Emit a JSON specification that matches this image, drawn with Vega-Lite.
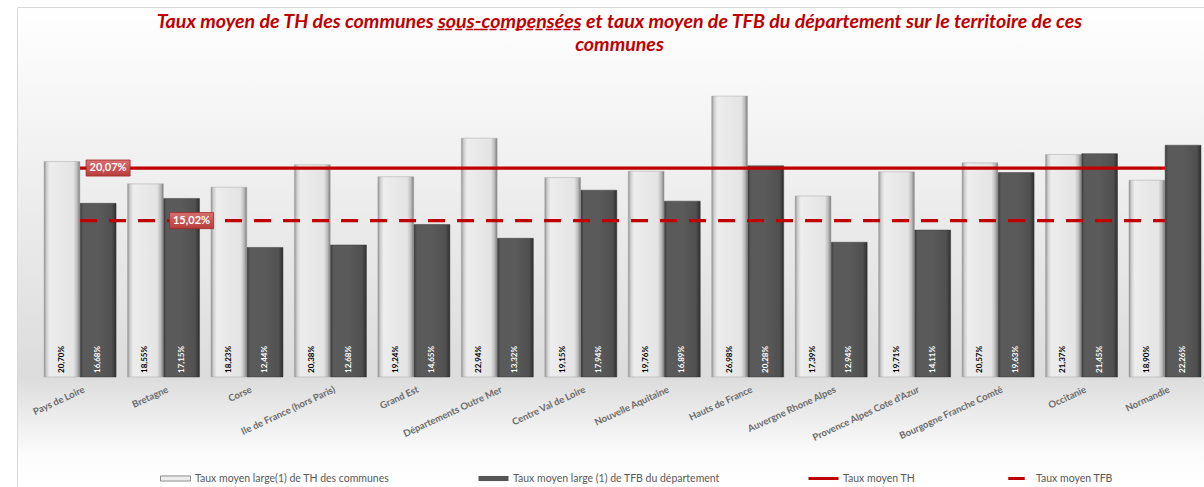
{
  "$schema": "https://vega.github.io/schema/vega-lite/v6.json",
  "width": 1187,
  "height": 480,
  "padding": {"left": 17, "top": 7, "right": 0, "bottom": 0},
  "background": "#ffffff",
  "title": {
    "text": [
      "Taux moyen de TH des communes \u0332s\u0332o\u0332u\u0332s\u0332-\u0332c\u0332o\u0332m\u0332p\u0332e\u0332n\u0332s\u0332é\u0332e\u0332s et taux moyen de TFB du département sur le territoire de ces",
      "communes"
    ],
    "orient": "top",
    "anchor": "middle",
    "frame": "group",
    "offset": -49,
    "dx": 9,
    "font": "Lato",
    "fontSize": 19.6,
    "fontStyle": "italic",
    "fontWeight": "bold",
    "color": "#c00000",
    "lineHeight": 23
  },
  "datasets": {
    "taux": [
      {"region": "Pays de Loire", "serie": "TH", "taux": 0.2070},
      {"region": "Pays de Loire", "serie": "TFB", "taux": 0.1668},
      {"region": "Bretagne", "serie": "TH", "taux": 0.1855},
      {"region": "Bretagne", "serie": "TFB", "taux": 0.1715},
      {"region": "Corse", "serie": "TH", "taux": 0.1823},
      {"region": "Corse", "serie": "TFB", "taux": 0.1244},
      {"region": "Ile de France (hors Paris)", "serie": "TH", "taux": 0.2038},
      {"region": "Ile de France (hors Paris)", "serie": "TFB", "taux": 0.1268},
      {"region": "Grand Est", "serie": "TH", "taux": 0.1924},
      {"region": "Grand Est", "serie": "TFB", "taux": 0.1465},
      {"region": "Départements Outre Mer", "serie": "TH", "taux": 0.2294},
      {"region": "Départements Outre Mer", "serie": "TFB", "taux": 0.1332},
      {"region": "Centre Val de Loire", "serie": "TH", "taux": 0.1915},
      {"region": "Centre Val de Loire", "serie": "TFB", "taux": 0.1794},
      {"region": "Nouvelle Aquitaine", "serie": "TH", "taux": 0.1976},
      {"region": "Nouvelle Aquitaine", "serie": "TFB", "taux": 0.1689},
      {"region": "Hauts de France", "serie": "TH", "taux": 0.2698},
      {"region": "Hauts de France", "serie": "TFB", "taux": 0.2028},
      {"region": "Auvergne Rhone Alpes", "serie": "TH", "taux": 0.1739},
      {"region": "Auvergne Rhone Alpes", "serie": "TFB", "taux": 0.1294},
      {"region": "Provence Alpes Cote d'Azur", "serie": "TH", "taux": 0.1971},
      {"region": "Provence Alpes Cote d'Azur", "serie": "TFB", "taux": 0.1411},
      {"region": "Bourgogne Franche Comté", "serie": "TH", "taux": 0.2057},
      {"region": "Bourgogne Franche Comté", "serie": "TFB", "taux": 0.1963},
      {"region": "Occitanie", "serie": "TH", "taux": 0.2137},
      {"region": "Occitanie", "serie": "TFB", "taux": 0.2145},
      {"region": "Normandie", "serie": "TH", "taux": 0.1890},
      {"region": "Normandie", "serie": "TFB", "taux": 0.2226}
    ],
    "moyennes": [
      {"region": "Pays de Loire", "serie": "TH", "taux": 0.2007},
      {"region": "Normandie", "serie": "TH", "taux": 0.2007},
      {"region": "Pays de Loire", "serie": "TFB", "taux": 0.1502},
      {"region": "Normandie", "serie": "TFB", "taux": 0.1502}
    ],
    "etiquettes": [
      {"region": "Pays de Loire", "taux": 0.2007},
      {"region": "Bretagne", "taux": 0.1502}
    ],
    "legende": [
      {"legende": "Taux moyen large(1) de TH des communes"},
      {"legende": "Taux moyen large (1) de TFB du département"},
      {"legende": "Taux moyen TH"},
      {"legende": "Taux moyen TFB"}
    ]
  },
  "layer": [
    {
      "data": {"name": "taux"},
      "transform": [{"filter": "datum.serie === 'TH'"}],
      "mark": {
        "type": "bar",
        "stroke": "#a8a8a8",
        "strokeWidth": 0.5,
        "fill": {
          "gradient": "linear", "x1": 0, "y1": 0, "x2": 1, "y2": 0,
          "stops": [
            {"offset": 0, "color": "#8f8f8f"},
            {"offset": 0.07, "color": "#cfcfcf"},
            {"offset": 0.16, "color": "#ededed"},
            {"offset": 0.82, "color": "#e4e4e4"},
            {"offset": 0.92, "color": "#bdbdbd"},
            {"offset": 1, "color": "#7a7a7a"}
          ]
        }
      },
      "encoding": {
        "x": {
          "field": "region", "type": "nominal", "sort": null,
          "scale": {"paddingInner": 0.137, "paddingOuter": 0.18, "align": 0.9},
          "axis": {
            "title": null, "orient": "bottom", "offset": -110,
            "domain": false, "ticks": false, "grid": false,
            "labelAngle": -25, "labelAlign": "right", "labelBaseline": "top",
            "labelPadding": 7, "labelOffset": 2,
            "labelFont": "Lato", "labelFontSize": 9.5, "labelFontWeight": "bold",
            "labelColor": "#6b6b6b", "labelLimit": 300
          }
        },
        "xOffset": {"field": "serie", "type": "nominal", "scale": {"domain": ["TH", "TFB"], "paddingInner": 0.01}},
        "y": {
          "field": "taux", "type": "quantitative",
          "scale": {"domain": [-0.1057, 0.3554], "nice": false, "zero": false},
          "axis": {
            "title": null, "values": [0.3554], "grid": true, "gridColor": "#d9d9d9", "gridWidth": 1,
            "domain": true, "domainColor": "#d9d9d9", "domainWidth": 1, "ticks": false, "labels": false
          }
        },
        "y2": {"datum": 0}
      }
    },
    {
      "data": {"name": "taux"},
      "transform": [{"filter": "datum.serie === 'TFB'"}],
      "mark": {
        "type": "bar",
        "stroke": "#3a3a3a",
        "strokeWidth": 0.5,
        "fill": {
          "gradient": "linear", "x1": 0, "y1": 0, "x2": 1, "y2": 0,
          "stops": [
            {"offset": 0, "color": "#3c3c3c"},
            {"offset": 0.08, "color": "#5a5a5a"},
            {"offset": 0.5, "color": "#5a5a5a"},
            {"offset": 0.88, "color": "#505050"},
            {"offset": 1, "color": "#2e2e2e"}
          ]
        }
      },
      "encoding": {
        "x": {"field": "region", "type": "nominal", "sort": null},
        "xOffset": {"field": "serie", "type": "nominal"},
        "y": {"field": "taux", "type": "quantitative"},
        "y2": {"datum": 0}
      }
    },
    {
      "data": {"name": "taux"},
      "transform": [{"filter": "datum.serie === 'TH'"}],
      "mark": {"type": "text", "angle": 270, "align": "left", "baseline": "middle", "dx": 4, "font": "Lato", "fontSize": 8, "fontWeight": "bold", "color": "#000000"},
      "encoding": {
        "x": {"field": "region", "type": "nominal", "sort": null},
        "xOffset": {"field": "serie", "type": "nominal"},
        "y": {"datum": 0},
        "text": {"field": "taux", "type": "quantitative", "format": ".2%"}
      }
    },
    {
      "data": {"name": "taux"},
      "transform": [{"filter": "datum.serie === 'TFB'"}],
      "mark": {"type": "text", "angle": 270, "align": "left", "baseline": "middle", "dx": 4, "font": "Lato", "fontSize": 8, "fontWeight": "bold", "color": "#ffffff"},
      "encoding": {
        "x": {"field": "region", "type": "nominal", "sort": null},
        "xOffset": {"field": "serie", "type": "nominal"},
        "y": {"datum": 0},
        "text": {"field": "taux", "type": "quantitative", "format": ".2%"}
      }
    },
    {
      "data": {"name": "moyennes"},
      "mark": {"type": "line", "color": "#c00000", "strokeWidth": 3.2},
      "encoding": {
        "x": {"field": "region", "type": "nominal", "sort": null},
        "y": {"field": "taux", "type": "quantitative"},
        "strokeDash": {
          "field": "serie", "type": "nominal",
          "scale": {"domain": ["TH", "TFB"], "range": [[1, 0], [17, 12]]},
          "legend": null
        }
      }
    },
    {
      "data": {"name": "etiquettes"},
      "mark": {
        "type": "point", "filled": true, "opacity": 1, "size": 484,
        "shape": "M0.55,-0.73H4.55V0.73H0.55Z",
        "stroke": "#9e2a2a", "strokeWidth": 0.8,
        "fill": {
          "gradient": "linear", "x1": 0, "y1": 0, "x2": 0, "y2": 1,
          "stops": [
            {"offset": 0, "color": "#d87070"},
            {"offset": 1, "color": "#b83c3c"}
          ]
        }
      },
      "encoding": {
        "x": {"field": "region", "type": "nominal", "sort": null},
        "y": {"field": "taux", "type": "quantitative"}
      }
    },
    {
      "data": {"name": "etiquettes"},
      "mark": {"type": "text", "dx": 28, "align": "center", "baseline": "middle", "font": "Lato", "fontSize": 11, "fontWeight": "bold", "color": "#ffffff"},
      "encoding": {
        "x": {"field": "region", "type": "nominal", "sort": null},
        "y": {"field": "taux", "type": "quantitative"},
        "text": {"field": "taux", "type": "quantitative", "format": ".2%"}
      }
    },
    {
      "data": {"name": "legende"},
      "mark": {"type": "point", "filled": true, "clip": true, "opacity": 1},
      "encoding": {
        "x": {"datum": "Pays de Loire"},
        "y": {"datum": -1},
        "color": {
          "field": "legende", "type": "nominal",
          "scale": {
            "domain": ["Taux moyen large(1) de TH des communes", "Taux moyen large (1) de TFB du département", "Taux moyen TH", "Taux moyen TFB"],
            "range": ["#ededed", "#555555", "#c00000", "#c00000"]
          },
          "legend": {
            "title": null,
            "encode": {
              "symbols": {
                "update": {
                  "opacity": {"value": 1},
                  "stroke": {"signal": "datum.value === 'Taux moyen large(1) de TH des communes' ? '#8c8c8c' : 'transparent'"},
                  "strokeWidth": {"value": 1}
                }
              }
            }
          }
        },
        "shape": {
          "field": "legende", "type": "nominal",
          "scale": {
            "domain": ["Taux moyen large(1) de TH des communes", "Taux moyen large (1) de TFB du département", "Taux moyen TH", "Taux moyen TFB"],
            "range": ["M-1,-0.17H1V0.17H-1Z", "M-1,-0.17H1V0.17H-1Z", "M-1,-0.1H1V0.1H-1Z", "M-0.55,-0.1H0.55V0.1H-0.55Z"]
          },
          "legend": {"title": null}
        }
      }
    }
  ],
  "config": {
    "locale": {
      "number": {"decimal": ",", "thousands": "\u00a0", "grouping": [3], "currency": ["", "\u00a0€"], "percent": "%"}
    },
    "view": {
      "stroke": null,
      "fill": {
        "gradient": "linear", "x1": 0, "y1": 0, "x2": 0, "y2": 1,
        "stops": [
          {"offset": 0, "color": "#ffffff"},
          {"offset": 0.09, "color": "#fbfbfb"},
          {"offset": 0.77, "color": "#dcdcdc"},
          {"offset": 0.93, "color": "#fbfbfb"},
          {"offset": 1, "color": "#ffffff"}
        ]
      }
    },
    "legend": {
      "orient": "none",
      "legendX": 143,
      "legendY": 456,
      "direction": "horizontal",
      "padding": 0,
      "symbolSize": 900,
      "symbolOpacity": 1,
      "labelFont": "Lato",
      "labelFontSize": 10.5,
      "labelColor": "#595959",
      "labelOffset": 4,
      "columnPadding": 86,
      "labelLimit": 400
    }
  }
}
